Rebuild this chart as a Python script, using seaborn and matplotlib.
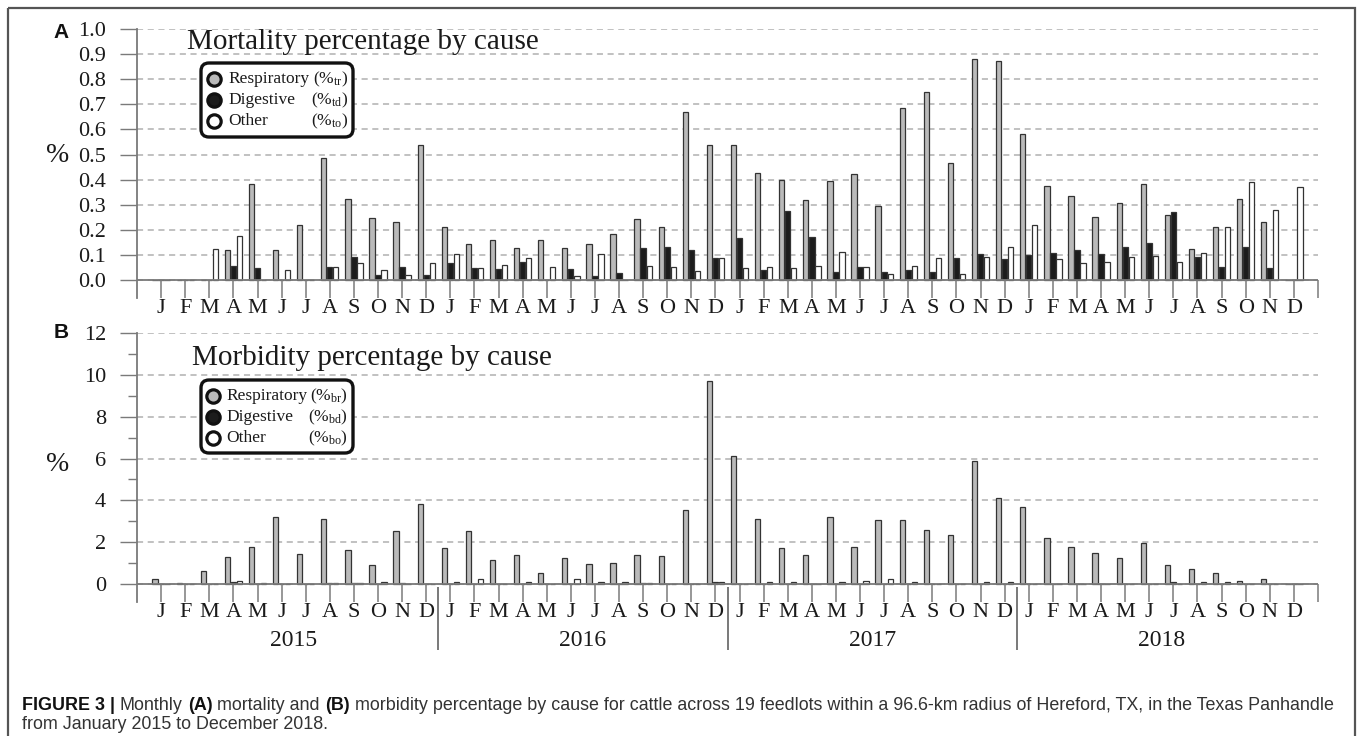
import numpy as np
import pandas as pd
import matplotlib
matplotlib.use("Agg")
import matplotlib.pyplot as plt
import seaborn as sns
from matplotlib.patches import FancyBboxPatch, Rectangle
from matplotlib.lines import Line2D
from matplotlib.transforms import Affine2D, blended_transform_factory

# ---------------- data ----------------
month_letters = ["J", "F", "M", "A", "M", "J", "J", "A", "S", "O", "N", "D"]
years = ["2015", "2016", "2017", "2018"]
causes = ["Respiratory", "Digestive", "Other"]

mort_resp = [0, 0, 0, 0.118, 0.382, 0.118, 0.218, 0.485, 0.324, 0.246, 0.231, 0.539,
             0.21, 0.142, 0.161, 0.129, 0.161, 0.129, 0.145, 0.182, 0.242, 0.21, 0.67, 0.537,
             0.537, 0.428, 0.399, 0.32, 0.396, 0.424, 0.293, 0.685, 0.749, 0.467, 0.88, 0.874,
             0.581, 0.374, 0.335, 0.25, 0.307, 0.383, 0.257, 0.122, 0.213, 0.324, 0.233, 0]
mort_dig = [0, 0, 0, 0.057, 0.048, 0, 0, 0.05, 0.093, 0.019, 0.053, 0.019,
            0.068, 0.047, 0.043, 0.072, 0, 0.043, 0.015, 0.028, 0.129, 0.133, 0.118, 0.086,
            0.169, 0.039, 0.275, 0.172, 0.032, 0.053, 0.032, 0.039, 0.032, 0.086, 0.104, 0.082,
            0.1, 0.106, 0.118, 0.104, 0.133, 0.146, 0.269, 0.093, 0.053, 0.133, 0.047, 0]
mort_oth = [0, 0, 0.122, 0.176, 0, 0.04, 0, 0.05, 0.066, 0.039, 0.019, 0.068,
            0.102, 0.047, 0.06, 0.086, 0.053, 0.015, 0.102, 0, 0.057, 0.053, 0.036, 0.086,
            0.047, 0.05, 0.047, 0.057, 0.11, 0.053, 0.025, 0.057, 0.086, 0.024, 0.09, 0.132,
            0.218, 0.082, 0.068, 0.072, 0.09, 0.097, 0.072, 0.106, 0.213, 0.39, 0.278, 0.371]

morb_resp = [0.22, 0.03, 0.64, 1.29, 1.76, 3.21, 1.44, 3.11, 1.63, 0.89, 2.52, 3.81,
             1.71, 2.52, 1.15, 1.40, 0.54, 1.24, 0.94, 0.99, 1.40, 1.32, 3.54, 9.72,
             6.11, 3.11, 1.71, 1.40, 3.21, 1.79, 3.05, 3.08, 2.60, 2.35, 5.86, 4.10,
             3.70, 2.22, 1.76, 1.48, 1.24, 1.95, 0.89, 0.73, 0.54, 0.16, 0.22, 0]
morb_dig = [0, 0, 0, 0.10, 0, 0, 0, 0.06, 0.03, 0.02, 0.03, 0,
            0, 0.02, 0, 0.02, 0.02, 0.02, 0.02, 0, 0.06, 0, 0.02, 0.10,
            0.02, 0.02, 0.02, 0.02, 0, 0, 0, 0, 0, 0.02, 0, 0.02,
            0.02, 0.02, 0, 0.02, 0.02, 0.02, 0.10, 0, 0, 0, 0.02, 0]
morb_oth = [0, 0, 0, 0.16, 0.03, 0, 0, 0.03, 0.03, 0.08, 0, 0,
            0.08, 0.22, 0, 0.11, 0, 0.22, 0.11, 0.11, 0.03, 0, 0, 0.08,
            0.02, 0.11, 0.08, 0.02, 0.11, 0.16, 0.22, 0.08, 0.02, 0.02, 0.08, 0.11,
            0.02, 0.02, 0.02, 0.02, 0.02, 0.02, 0.02, 0.08, 0.08, 0.02, 0, 0]

mort_ticks = [0.0, 0.1, 0.2, 0.3, 0.4, 0.5, 0.6, 0.7, 0.8, 0.9, 1.0]
mort_ticklabels = ["0.0", "0.1", "0.2", "0.3", "0.4", "0.5", "0.6", "0.7", "0.8", "0.9", "1.0"]
morb_ticks = [0, 2, 4, 6, 8, 10, 12]
morb_ticklabels = ["0", "2", "4", "6", "8", "10", "12"]
morb_minor = [1, 3, 5, 7, 9, 11]

# ---------------- style ----------------
W, H = 1358, 736
sns.set_theme(style="white")
plt.rcParams["font.family"] = ["Liberation Serif", "DejaVu Serif"]
plt.rcParams["mathtext.fontset"] = "custom"
plt.rcParams["mathtext.rm"] = "Liberation Serif"
plt.rcParams["mathtext.it"] = "Liberation Serif:italic"
plt.rcParams["mathtext.bf"] = "Liberation Serif:bold"

TXT = "#1a1a1a"
AXC = "#7a7a7a"
palette = {"Respiratory": "#bababa", "Digestive": "#1c1c1c", "Other": "#ffffff"}

fig = plt.figure(figsize=(W / 100, H / 100), dpi=100)
fig.patch.set_facecolor("white")
pix = Affine2D().scale(1.0 / W, -1.0 / H).translate(0, 1) + fig.transFigure

X_LEFT, X_RIGHT = 137, 1318
N = 48
months_idx = np.arange(1, N + 1)


def panel(top, zero, bottom, resp, dig, oth, ymax, ticks, ticklabels, minor=None):
    ax = fig.add_axes([X_LEFT / W, 1 - bottom / H, (X_RIGHT - X_LEFT) / W, (bottom - top) / H])
    df = pd.DataFrame({
        "month": np.tile(months_idx, 3),
        "cause": np.repeat(causes, N),
        "value": np.concatenate([resp, dig, oth]),
    })
    sns.barplot(data=df, x="month", y="value", hue="cause", hue_order=causes,
                palette=palette, native_scale=True, width=0.75, gap=0.12,
                saturation=1, edgecolor="#333333", linewidth=0.9,
                errorbar=None, legend=False, ax=ax, zorder=2)
    px_per_unit = (zero - top) / ymax
    ymin = -(bottom - zero) / px_per_unit
    ax.set_xlim(0, N + 1)
    ax.set_ylim(ymin, ymax)
    ax.set_xlabel("")
    ax.set_ylabel("")
    for s in ["top", "right", "bottom"]:
        ax.spines[s].set_visible(False)
    ax.spines["left"].set_color(AXC)
    ax.spines["left"].set_linewidth(1.3)
    ax.set_yticks(ticks, labels=ticklabels)
    if minor is not None:
        ax.set_yticks(minor, minor=True)
        ax.tick_params(axis="y", which="minor", left=True, length=6.5, width=1, color=AXC)
    ax.tick_params(axis="y", which="major", left=True, length=12.2, width=1, color=AXC,
                   pad=10, labelsize=16, labelcolor=TXT)
    ax.set_xticks(months_idx, labels=month_letters * 4)
    ax.tick_params(axis="x", length=0, pad=1, labelsize=16, labelcolor=TXT)
    ax.set_axisbelow(True)
    ax.yaxis.grid(True, linestyle=(0, (4, 3)), color="#b0b0b0", linewidth=1.1)
    ax.xaxis.grid(False)
    ax.axhline(0, color=AXC, lw=1.3, zorder=4)
    ax.vlines(np.arange(1, N + 2), ymin, 0, colors=AXC, lw=1.1, zorder=4, clip_on=False)
    return ax, px_per_unit


axA, _ = panel(29, 280, 298, mort_resp, mort_dig, mort_oth, 1.0, mort_ticks, mort_ticklabels)
axB, ppuB = panel(333, 584, 602, morb_resp, morb_dig, morb_oth, 12, morb_ticks, morb_ticklabels,
                  minor=morb_minor)

# year separators and labels (panel B)
year_sep = [12.5, 24.5, 36.5]
axB.vlines(year_sep, -3 / ppuB, -66 / ppuB, colors="#555555", lw=1.1, clip_on=False, zorder=4)
ytr = blended_transform_factory(axB.transData, pix)
for i, yr in enumerate(years):
    axB.text(6.5 + 12 * i, 641, yr, transform=ytr, ha="center", va="center",
             fontsize=17, color=TXT)

# titles, % labels, panel letters
fig.text(187 / W, 1 - 42 / H, "Mortality percentage by cause", fontsize=21, color=TXT,
         ha="left", va="center")
fig.text(192 / W, 1 - 358 / H, "Morbidity percentage by cause", fontsize=21, color=TXT,
         ha="left", va="center")
for yy in (156, 465):
    fig.text(58 / W, 1 - yy / H, "%", fontsize=20, color=TXT, ha="center", va="center")
for lab, yy in (("A", 32), ("B", 332)):
    fig.text(61 / W, 1 - yy / H, lab, fontsize=15, fontweight="bold", color="#111111",
             family=["Liberation Sans", "DejaVu Sans"], ha="center", va="center")


# legends
def legend(x0, y0, x1, y1, rows, mx, tx, rx, subs):
    box = FancyBboxPatch((x0, y0), x1 - x0, y1 - y0,
                         boxstyle="round,pad=0,rounding_size=8", transform=pix,
                         fc="white", ec="#111111", lw=2.4, zorder=10)
    fig.add_artist(box)
    fills = [palette[c] for c in causes]
    for (yy, name, fc, sub) in zip(rows, causes, fills, subs):
        fig.add_artist(Line2D([mx], [yy], marker="o", ms=9.6, mfc=fc, mec="#111111",
                              mew=2.3, transform=pix, zorder=11))
        fig.text(tx / W, 1 - yy / H, name, fontsize=12.5, color=TXT, ha="left",
                 va="center", zorder=11)
        fig.text(rx / W, 1 - yy / H, r"(%$_{\mathrm{" + sub + "}}$)", fontsize=12.5,
                 color=TXT, ha="right", va="center", zorder=11)


legend(201, 63, 353, 137, [79, 100, 121], 214, 228, 348, ["tr", "td", "to"])
legend(201, 380, 353, 453, [396, 417, 438], 213, 226, 348, ["br", "bd", "bo"])

# outer frame (bottom edge lies outside the picture)
fig.add_artist(Rectangle((8, 8), 1347, 740, transform=pix, fill=False, ec="#555555", lw=1.6,
                         zorder=20, clip_on=False))

# caption with bold segments
renderer = fig.canvas.get_renderer()
cap_family = ["Liberation Sans", "DejaVu Sans"]
line1 = [("FIGURE 3 |", "bold", "#111111"), ("Monthly", "normal", "#333333"),
         ("(A)", "bold", "#111111"), ("mortality and", "normal", "#333333"),
         ("(B)", "bold", "#111111"),
         ("morbidity percentage by cause for cattle across 19 feedlots within a 96.6-km "
          "radius of Hereford, TX, in the Texas Panhandle", "normal", "#333333")]
line2 = [("from January 2015 to December 2018.", "normal", "#333333")]


def measure(s, size, weight):
    t = fig.text(0, 0, s, fontsize=size, fontweight=weight, family=cap_family)
    w = t.get_window_extent(renderer=renderer).width
    t.remove()
    return w


base = 10.0
space_w = measure("a a", base, "normal") - measure("aa", base, "normal")
total = sum(measure(s, base, wgt) for s, wgt, c in line1) + space_w * (len(line1) - 1)
size = base * (1311.0 / total)
space_w = space_w * size / base


def draw_line(parts, x, baseline):
    cx = x
    for s, wgt, c in parts:
        t = fig.text(cx / W, 1 - baseline / H, s, fontsize=size, fontweight=wgt,
                     family=cap_family, color=c, ha="left", va="baseline")
        cx += t.get_window_extent(renderer=renderer).width + space_w


draw_line(line1, 22, 710)
draw_line(line2, 22, 729)

fig.savefig("out.png", dpi=100, facecolor="white")
